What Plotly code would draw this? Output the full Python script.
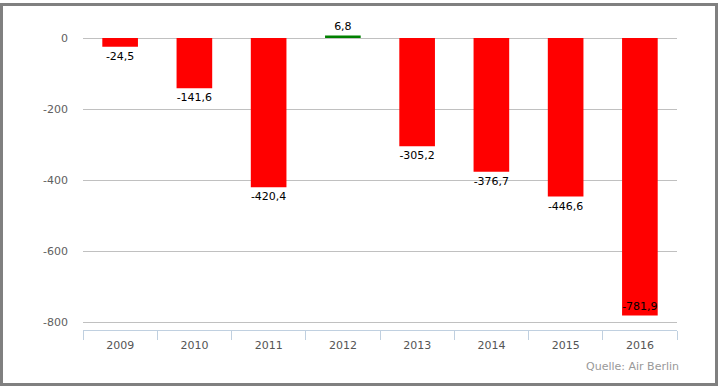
import plotly.graph_objects as go

years = ["2009", "2010", "2011", "2012", "2013", "2014", "2015", "2016"]
values = [-24.5, -141.6, -420.4, 6.8, -305.2, -376.7, -446.6, -781.9]
y_tick_vals = [0, -200, -400, -600, -800]
y_tick_text = ["0", "-200", "-400", "-600", "-800"]
source = "Quelle: Air Berlin"

W, H = 724, 391
L, R, T, B = 83, 47, 20, 61
PW, PH = W - L - R, H - T - B

colors = ["#FF0000" if v < 0 else "#008000" for v in values]
labels = [f"{v:.1f}".replace(".", ",") for v in values]
positions = ["outside" if v > -700 else "inside" for v in values]

fig = go.Figure(go.Bar(
    x=years, y=values, marker=dict(color=colors, line=dict(width=0)),
    width=0.48, text=labels, textposition=positions, textangle=0,
    insidetextanchor="end", cliponaxis=False,
    textfont=dict(family="DejaVu Sans", size=11, color="#000000"),
    insidetextfont=dict(family="DejaVu Sans", size=11, color="#000000"),
    outsidetextfont=dict(family="DejaVu Sans", size=11, color="#000000"),
))

def px(x):
    return (x - L) / PW

def py(y):
    return (H - B - y) / PH

fig.update_layout(
    width=W, height=H, margin=dict(l=L, r=R, t=T, b=B),
    paper_bgcolor="white", plot_bgcolor="white",
    showlegend=False, bargap=0.52,
    uniformtext=dict(minsize=11, mode="show"),
    font=dict(family="DejaVu Sans", size=11, color="#606060"),
    xaxis=dict(showline=True, linecolor="#C0D0E0", linewidth=1,
               ticks="outside", tickson="boundaries", ticklen=9,
               tickcolor="#C0D0E0", showgrid=False, ticklabelstandoff=5,
               tickfont=dict(size=11, color="#555555")),
    yaxis=dict(range=[-822.5, 50.7], tickvals=y_tick_vals, ticktext=y_tick_text,
               showgrid=True, gridcolor="#C0C0C0", gridwidth=1,
               zeroline=True, zerolinecolor="#C0C0C0", zerolinewidth=1,
               ticks="", ticklabelstandoff=14,
               tickfont=dict(size=11, color="#606060")),
    shapes=[dict(type="rect", xref="paper", yref="paper",
                 x0=px(1.5), x1=px(716.5), y0=py(4.5), y1=py(384.5),
                 line=dict(color="#808080", width=3), layer="above")],
    annotations=[dict(text=source, xref="paper", yref="paper",
                      x=px(681), y=py(366), xanchor="right", yanchor="middle",
                      showarrow=False,
                      font=dict(family="DejaVu Sans", size=11, color="#999999"))],
)

fig.write_html("out.html", config={"displayModeBar": False},
               post_script="document.body.style.margin='0';document.body.style.overflow='hidden';")
